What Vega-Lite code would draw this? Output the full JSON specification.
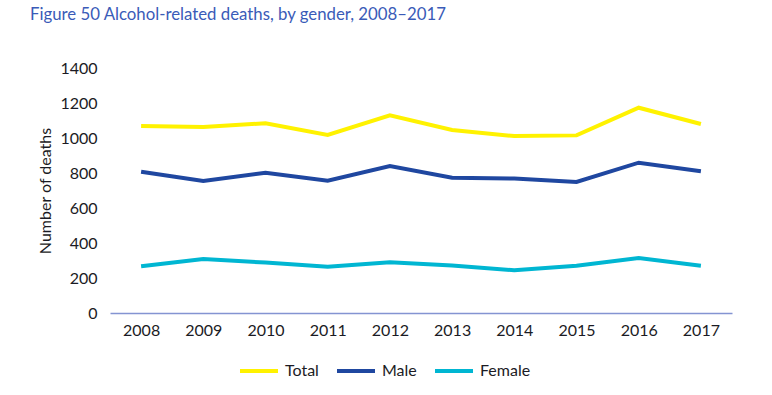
{
  "$schema": "https://vega.github.io/schema/vega-lite/v6.json",
  "width": 622,
  "height": 245,
  "autosize": {"type": "none"},
  "padding": {"left": 110, "top": 68, "right": 40, "bottom": 82},
  "background": "white",
  "view": {"stroke": null},
  "title": {
    "text": "Figure 50 Alcohol-related deaths, by gender, 2008–2017",
    "anchor": "start",
    "frame": "group",
    "dx": -80,
    "offset": 36,
    "font": "Lato",
    "fontSize": 16.8,
    "fontWeight": "normal",
    "color": "#3a5bb8"
  },
  "data": {
    "values": [
      {"year": "2008", "series": "Total", "deaths": 1069},
      {"year": "2009", "series": "Total", "deaths": 1063},
      {"year": "2010", "series": "Total", "deaths": 1084},
      {"year": "2011", "series": "Total", "deaths": 1017},
      {"year": "2012", "series": "Total", "deaths": 1130},
      {"year": "2013", "series": "Total", "deaths": 1046},
      {"year": "2014", "series": "Total", "deaths": 1011},
      {"year": "2015", "series": "Total", "deaths": 1015},
      {"year": "2016", "series": "Total", "deaths": 1173},
      {"year": "2017", "series": "Total", "deaths": 1080},
      {"year": "2008", "series": "Male", "deaths": 807},
      {"year": "2009", "series": "Male", "deaths": 754},
      {"year": "2010", "series": "Male", "deaths": 802},
      {"year": "2011", "series": "Male", "deaths": 756},
      {"year": "2012", "series": "Male", "deaths": 840},
      {"year": "2013", "series": "Male", "deaths": 773},
      {"year": "2014", "series": "Male", "deaths": 768},
      {"year": "2015", "series": "Male", "deaths": 749},
      {"year": "2016", "series": "Male", "deaths": 859},
      {"year": "2017", "series": "Male", "deaths": 810},
      {"year": "2008", "series": "Female", "deaths": 267},
      {"year": "2009", "series": "Female", "deaths": 309},
      {"year": "2010", "series": "Female", "deaths": 288},
      {"year": "2011", "series": "Female", "deaths": 265},
      {"year": "2012", "series": "Female", "deaths": 290},
      {"year": "2013", "series": "Female", "deaths": 272},
      {"year": "2014", "series": "Female", "deaths": 244},
      {"year": "2015", "series": "Female", "deaths": 270},
      {"year": "2016", "series": "Female", "deaths": 314},
      {"year": "2017", "series": "Female", "deaths": 270}
    ]
  },
  "mark": {"type": "line", "strokeWidth": 4, "strokeJoin": "miter"},
  "encoding": {
    "x": {
      "field": "year",
      "type": "ordinal",
      "scale": {"type": "point", "padding": 0.5},
      "axis": {
        "title": null,
        "labelAngle": 0,
        "ticks": false,
        "grid": false,
        "domainColor": "#8494d2",
        "domainWidth": 1.5,
        "labelPadding": 9,
        "labelFont": "Lato",
        "labelFontSize": 16,
        "labelColor": "#1b1b24"
      }
    },
    "y": {
      "field": "deaths",
      "type": "quantitative",
      "scale": {"domain": [0, 1400]},
      "axis": {
        "title": "Number of deaths",
        "values": [0, 200, 400, 600, 800, 1000, 1200, 1400],
        "format": "d",
        "domain": false,
        "ticks": false,
        "grid": false,
        "labelPadding": 13,
        "labelFont": "Lato",
        "labelFontSize": 16,
        "labelColor": "#1b1b24",
        "titleFont": "Lato",
        "titleFontSize": 16,
        "titleFontWeight": "normal",
        "titleColor": "#1b1b24",
        "titlePadding": 6
      }
    },
    "color": {
      "field": "series",
      "type": "nominal",
      "scale": {
        "domain": ["Total", "Male", "Female"],
        "range": ["#fff200", "#1f47a0", "#00b6d2"]
      },
      "legend": {
        "title": null,
        "orient": "none",
        "direction": "horizontal",
        "legendX": 128,
        "legendY": 282,
        "symbolType": "stroke",
        "symbolSize": 1444,
        "symbolStrokeWidth": 4,
        "labelFont": "Lato",
        "labelFontSize": 16,
        "labelColor": "#1b1b24",
        "labelOffset": 5,
        "columnPadding": 10
      }
    }
  }
}
